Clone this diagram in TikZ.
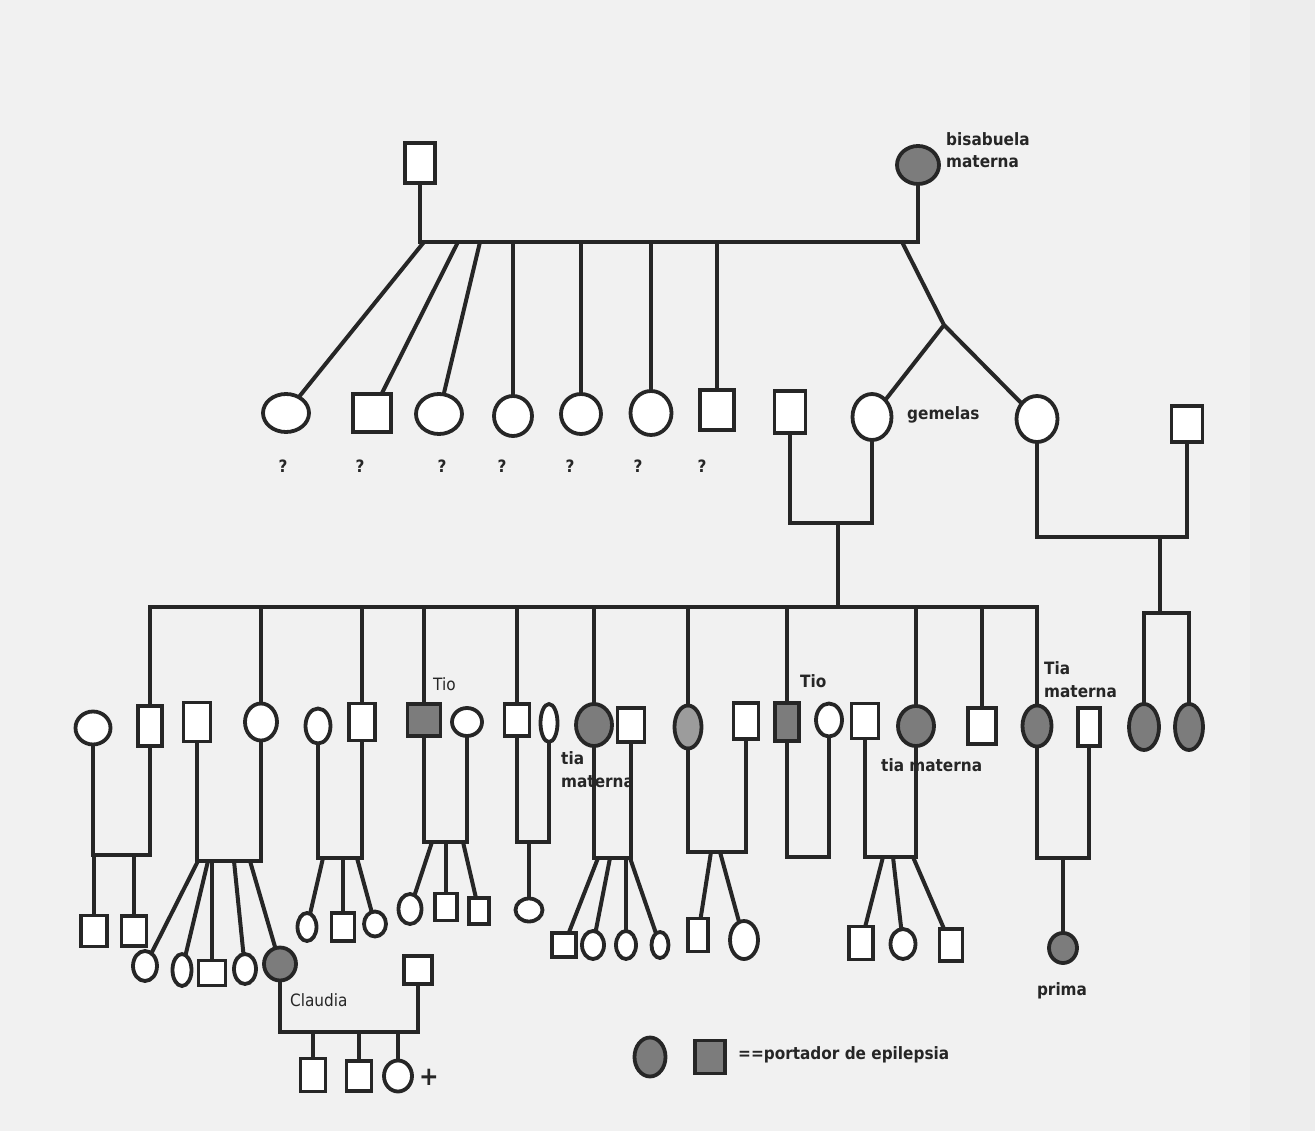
\documentclass[tikz,border=0pt]{standalone}
\usepackage{fontspec}
\newfontfamily\cnd{DejaVuSansCondensed.ttf}[BoldFont=DejaVuSansCondensed-Bold.ttf]
\usetikzlibrary{shapes.geometric}
\definecolor{pagebg}{HTML}{F1F1F1}
\definecolor{affgray}{HTML}{7C7C7C}
\definecolor{afflight}{HTML}{9C9C9C}
\definecolor{ink}{HTML}{262626}
\tikzset{
  pers/.style={draw=ink, line width=3.8pt, inner sep=0pt, outer sep=0pt, fill=white},
  sq/.style={pers, rectangle},
  ci/.style={pers, ellipse},
  aff/.style={fill=affgray},
  afl/.style={fill=afflight},
  sz/.style 2 args={minimum width=#1pt, minimum height=#2pt},
  link/.style={draw=ink, line width=4pt, line join=miter},
  lbl/.style={font=\cnd\bfseries\fontsize{17}{19}\selectfont, inner sep=0pt, text=ink},
  lblr/.style={font=\cnd\fontsize{17}{19}\selectfont, inner sep=0pt, text=ink},
}
\begin{document}
\begin{tikzpicture}[x=1pt,y=-1pt]
\useasboundingbox (0,0) rectangle (1315,1131);
\fill[pagebg] (0,0) rectangle (1315,1131);
\fill[gray!14] (1250,0) rectangle (1315,1131);
% ---------- Generation I
\node[sq,sz={30}{40}] (g1m) at (420,163) {};
\node[ci,aff,sz={42}{38}] (g1f) at (918,165) {};
\node[lbl,anchor=west] (lb1) at (946,139) {bisabuela};
\node[lbl,anchor=west] (lb2) at (946,162) {materna};
\coordinate (m1) at (669,242);
\draw[link] (g1m.south) |- (m1) -| (g1f.south);
% ---------- Generation II
\node[ci,sz={46}{38}] (c1) at (286,413) {};
\node[sq,sz={38}{38}] (c2) at (372,413) {};
\node[ci,sz={46}{40}] (c3) at (439,414) {};
\node[ci,sz={38}{40}] (c4) at (513,416) {};
\node[ci,sz={40}{40}] (c5) at (581,414) {};
\node[ci,sz={41}{44}] (c6) at (651,413) {};
\node[sq,sz={34}{40}] (c7) at (717,410) {};
\coordinate (d1) at (424,242);
\coordinate (d2) at (458,242);
\coordinate (d3) at (480,242);
\draw[link] (d1) -- (c1);
\draw[link] (d2) -- (c2);
\draw[link] (d3) -- (c3);
\draw[link] (c4.north) -- (c4.north |- m1);
\draw[link] (c5.north) -- (c5.north |- m1);
\draw[link] (c6.north) -- (c6.north |- m1);
\draw[link] (c7.north) -- (c7.north |- m1);
\foreach \n/\x in {q1/283,q2/360,q3/442,q4/502,q5/570,q6/638,q7/702}
  \node[lbl] (\n) at (\x,466) {?};
% twins
\node[sq,sz={31}{42}] (h1) at (790,412) {};
\node[ci,sz={39}{46}] (t1) at (872,417) {};
\node[ci,sz={41}{46}] (t2) at (1037,419) {};
\node[sq,sz={31}{36}] (h2) at (1187,424) {};
\node[lbl,anchor=west] (gem) at (907,415) {gemelas};
\coordinate (tws) at (902,242);
\coordinate (twp) at (944,325);
\draw[link] (tws) -- (twp) -- (t1);
\draw[link] (twp) -- (t2);
\coordinate (mt1) at (838,523);
\draw[link] (h1.south) |- (mt1) -| (t1.south);
\coordinate (mt2) at (1160,537);
\draw[link] (t2.south) |- (mt2) -| (h2.south);
% ---------- Generation III
\node[sq,sz={24}{40}] (p1) at (150,726) {};
\node[ci,sz={32}{37}] (p2) at (261,722) {};
\node[sq,sz={26}{37}] (p3) at (362,722) {};
\node[sq,aff,sz={33}{32}] (p4) at (424,720) {};
\node[sq,sz={25}{32}] (p5) at (517,720) {};
\node[ci,aff,sz={36}{42}] (p6) at (594,725) {};
\node[ci,afl,sz={27}{43}] (p7) at (688,727) {};
\node[sq,aff,sz={24}{38}] (p8) at (787,722) {};
\node[ci,aff,sz={36}{40}] (p9) at (916,726) {};
\node[sq,sz={28}{36}] (p10) at (982,726) {};
\node[ci,aff,sz={29}{41}] (p11) at (1037,726) {};
\node[ci,sz={35}{33}] (s1) at (93,728) {};
\node[sq,sz={27}{39}] (s2) at (197,722) {};
\node[ci,sz={25}{35}] (s3) at (318,726) {};
\node[ci,sz={30}{28}] (s4) at (467,722) {};
\node[ci,sz={17}{38}] (s5) at (549,723) {};
\node[sq,sz={27}{34}] (s6) at (631,725) {};
\node[sq,sz={25}{36}] (s7) at (746,721) {};
\node[ci,sz={26}{33}] (s8) at (829,720) {};
\node[sq,sz={27}{35}] (s9) at (865,721) {};
\node[sq,sz={22}{38}] (s10) at (1089,727) {};
\node[ci,aff,sz={30}{46}] (r1) at (1144,727) {};
\node[ci,aff,sz={28}{46}] (r2) at (1189,727) {};
% sibship lines
\coordinate (s3R) at (1037,607);
\draw[link] (p1.north) |- (s3R) -- (p11.north);
\foreach \p in {p2,p3,p4,p5,p6,p7,p8,p9,p10}
  \draw[link] (\p.north) -- (\p.north |- s3R);
\draw[link] (mt1) -- (mt1 |- s3R);
\coordinate (rr) at (1160,613);
\draw[link] (mt2) -- (rr);
\draw[link] (r1.north) |- (rr) -| (r2.north);
% labels gen III
\node[lblr,anchor=west] (ltio1) at (433,684) {Tio};
\node[lbl,anchor=west] (lta1) at (561,758) {tia};
\node[lbl,anchor=west] (lta2) at (561,782) {materna};
\node[lbl,anchor=west] (ltio2) at (800,681) {Tio};
\node[lbl,anchor=west] (lta3) at (881,765) {tia materna};
\node[lbl,anchor=west] (lta4) at (1044,668) {Tia};
\node[lbl,anchor=west] (lta5) at (1044,692) {materna};
% marriages gen III
\coordinate (mA) at (120,855);
\coordinate (mB) at (229,861);
\coordinate (mC) at (340,858);
\coordinate (mD) at (445,842);
\coordinate (mE) at (533,842);
\coordinate (mF) at (612,858);
\coordinate (mG) at (717,852);
\coordinate (mH) at (808,857);
\coordinate (mI) at (890,857);
\coordinate (mJ) at (1063,858);
\draw[link] (s1.south) |- (mA) -| (p1.south);
\draw[link] (s2.south) |- (mB) -| (p2.south);
\draw[link] (s3.south) |- (mC) -| (p3.south);
\draw[link] (p4.south) |- (mD) -| (s4.south);
\draw[link] (p5.south) |- (mE) -| (s5.south);
\draw[link] (p6.south) |- (mF) -| (s6.south);
\draw[link] (p7.south) |- (mG) -| (s7.south);
\draw[link] (p8.south) |- (mH) -| (s8.south);
\draw[link] (s9.south) |- (mI) -| (p9.south);
\draw[link] (p11.south) |- (mJ) -| (s10.south);
% ---------- Generation IV
\node[sq,sz={26}{31}] (a1) at (94,931) {};
\node[sq,sz={25}{30}] (a2) at (134,931) {};
\draw[link] (a1.north) -- (a1.north |- mA);
\draw[link] (a2.north) -- (a2.north |- mA);
\node[ci,sz={24}{30}] (b1) at (145,966) {};
\node[ci,sz={19}{32}] (b2) at (182,970) {};
\node[sq,sz={27}{25}] (b3) at (212,973) {};
\node[ci,sz={22}{30}] (b4) at (245,969) {};
\node[ci,aff,sz={32}{33}] (cl) at (280,964) {};
\coordinate (bb1) at (198,861);
\coordinate (bb2) at (208,861);
\coordinate (bb4) at (234,861);
\coordinate (bb5) at (250,861);
\draw[link] (bb1) -- (b1);
\draw[link] (bb2) -- (b2);
\draw[link] (b3.north) -- (b3.north |- mB);
\draw[link] (bb4) -- (b4);
\draw[link] (bb5) -- (cl);
\node[lblr,anchor=west] (lcl) at (290,1000) {Claudia};
\node[sq,sz={28}{28}] (clh) at (418,970) {};
\coordinate (mCl) at (349,1032);
\draw[link] (cl.south) |- (mCl) -| (clh.south);
\node[sq,sz={25}{33}] (v1) at (313,1075) {};
\node[sq,sz={25}{30}] (v2) at (359,1076) {};
\node[ci,sz={28}{31}] (v3) at (398,1076) {};
\foreach \v in {v1,v2,v3}
  \draw[link] (\v.north) -- (\v.north |- mCl);
\node[lbl,font=\cnd\bfseries\fontsize{26}{26}\selectfont] (cross) at (429,1077) {+};
% couple C
\node[ci,sz={19}{28}] (e1) at (307,927) {};
\node[sq,sz={23}{28}] (e2) at (343,927) {};
\node[ci,sz={22}{25}] (e3) at (375,924) {};
\coordinate (ee1) at (323,858);
\coordinate (ee3) at (357,858);
\draw[link] (ee1) -- (e1);
\draw[link] (e2.north) -- (e2.north |- mC);
\draw[link] (ee3) -- (e3);
% couple D
\node[ci,sz={23}{30}] (f1) at (410,909) {};
\node[sq,sz={22}{27}] (f2) at (446,907) {};
\node[sq,sz={20}{26}] (f3) at (479,911) {};
\coordinate (ff1) at (432,842);
\coordinate (ff3) at (463,842);
\draw[link] (ff1) -- (f1);
\draw[link] (f2.north) -- (f2.north |- mD);
\draw[link] (ff3) -- (f3);
% couple E
\node[ci,sz={27}{23}] (g1) at (529,910) {};
\draw[link] (g1.north) -- (g1.north |- mE);
% couple F
\node[sq,sz={24}{24}] (k1) at (564,945) {};
\node[ci,sz={22}{28}] (k2) at (593,945) {};
\node[ci,sz={20}{28}] (k3) at (626,945) {};
\node[ci,sz={17}{26}] (k4) at (660,945) {};
\coordinate (kk1) at (598,858);
\coordinate (kk2) at (610,858);
\coordinate (kk4) at (630,858);
\draw[link] (kk1) -- (k1);
\draw[link] (kk2) -- (k2);
\draw[link] (k3.north) -- (k3.north |- mF);
\draw[link] (kk4) -- (k4);
% couple G
\node[sq,sz={20}{33}] (n1) at (698,935) {};
\node[ci,sz={28}{38}] (n2) at (744,940) {};
\coordinate (nn1) at (711,852);
\coordinate (nn2) at (720,852);
\draw[link] (nn1) -- (n1);
\draw[link] (nn2) -- (n2);
% couple I
\node[sq,sz={24}{33}] (o1) at (861,943) {};
\node[ci,sz={25}{30}] (o2) at (903,944) {};
\node[sq,sz={23}{32}] (o3) at (951,945) {};
\coordinate (oo1) at (883,857);
\coordinate (oo2) at (893,857);
\coordinate (oo3) at (913,857);
\draw[link] (oo1) -- (o1);
\draw[link] (oo2) -- (o2);
\draw[link] (oo3) -- (o3);
% couple J
\node[ci,aff,sz={28}{30}] (pr) at (1063,948) {};
\draw[link] (pr.north) -- (pr.north |- mJ);
\node[lbl] (lpr) at (1062,991) {prima};
% ---------- legend
\node[ci,aff,sz={31}{39}] (lg1) at (650,1057) {};
\node[sq,aff,sz={30}{33}] (lg2) at (710,1057) {};
\node[lbl,anchor=west] (lgt) at (738,1055) {==portador de epilepsia};
\end{tikzpicture}
\end{document}
